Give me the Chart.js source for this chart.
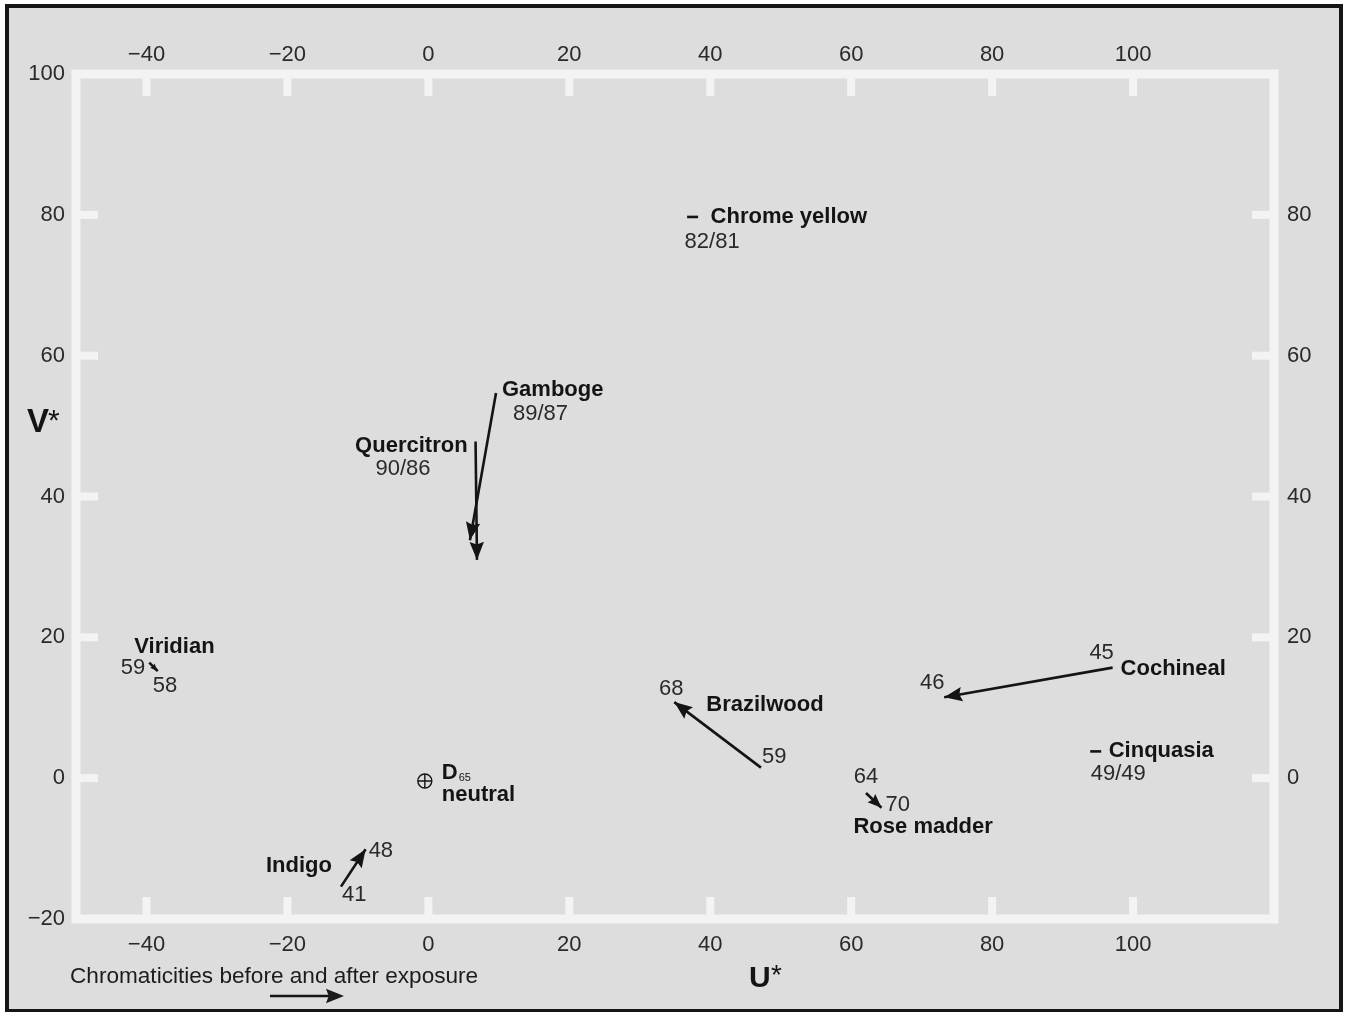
<!DOCTYPE html>
<html>
<head>
<meta charset="utf-8">
<title>Chromaticities before and after exposure</title>
<script src="https://cdn.jsdelivr.net/npm/chart.js@4/dist/chart.umd.min.js"></script>
<style>
  html, body { margin: 0; padding: 0; background: #fff; }
  canvas { display: block; }
</style>
</head>
<body>
<canvas id="grafica" width="1346" height="1012"></canvas>
<script>
// pigmentos y cromaticidades antes / despues de la exposicion
const pigmentos = ['Gamboge', 'Quercitron', 'Brazilwood', 'Cochineal', 'Rose madder', 'Indigo', 'Viridian', 'Chrome yellow', 'Cinquasia'];
const uAntes   = [9.6, 6.7, 47.2, 97.1, 62.1, -12.4, -39.6, 37.5, 94.7];
const vAntes   = [54.7, 47.8, 1.5, 15.7, -2.1, -15.4, 16.4, 79.7, 3.8];
const uDespues = [5.9, 6.9, 34.9, 73.2, 64.3, -8.9, -38.4, 37.5, 94.7];
const vDespues = [33.8, 31.0, 10.8, 11.5, -4.2, -10.1, 15.2, 79.7, 3.8];
const lAntes   = [89, 90, 59, 45, 64, 41, 59, 82, 49];
const lDespues = [87, 86, 68, 46, 70, 48, 58, 81, 49];

// punto neutro D65
const neutroU = [-0.5];
const neutroV = [-0.4];

const ticksU = [-40, -20, 0, 20, 40, 60, 80, 100];
const ticksV = [-20, 0, 20, 40, 60, 80, 100];
const ticksVDerecha = [0, 20, 40, 60, 80];

const FUENTE = '"Liberation Sans", Arial, Helvetica, sans-serif';
const TINTA = '#141414';
const GRIS_TEXTO = '#2a2a2a';
const BLANCO = '#f3f3f3';

Chart.defaults.font.family = FUENTE;

// donde va cada rotulo: [extremo, dx, dy, alineacion] en pixeles respecto al punto
const rotulos = {
  'Gamboge':       { nombre: ['b', 6, -3, 'left'],  par: ['b', 17, 21, 'left'] },
  'Quercitron':    { nombre: ['b', -8, 4, 'right'], par: ['b', -45, 27, 'right'] },
  'Brazilwood':    { nombre: ['a', 32, 3, 'left'],  antes: ['b', 1, -11, 'left'], despues: ['a', -3, -13, 'center'] },
  'Cochineal':     { nombre: ['b', 8, 1, 'left'],   antes: ['b', -11, -15, 'center'], despues: ['a', -12, -14, 'center'] },
  'Rose madder':   { nombre: ['a', -28, 19, 'left'], antes: ['b', 0, -16, 'center'], despues: ['a', 4, -3, 'left'] },
  'Indigo':        { nombre: ['b', -9, -21, 'right'], antes: ['b', 1, 8, 'left'], despues: ['a', 3, 2, 'left'] },
  'Viridian':      { nombre: ['b', -15, -16, 'left'], antes: ['b', -4, 5, 'right'], despues: ['a', -5, 15, 'left'] },
  'Chrome yellow': { nombre: ['b', 18, 0, 'left'],  par: ['b', -8, 25, 'left'] },
  'Cinquasia':     { nombre: ['b', 13, 0, 'left'],  par: ['b', -5, 23, 'left'] }
};

function conSigno(v) {
  return v < 0 ? '\u2212' + Math.abs(v) : String(v);
}

const datasets = [];
pigmentos.forEach((nombre, i) => {
  const seMueve = uAntes[i] !== uDespues[i] || vAntes[i] !== vDespues[i];
  if (seMueve) {
    datasets.push({
      label: nombre,
      showLine: true,
      flecha: true,
      data: [{ x: uAntes[i], y: vAntes[i] }, { x: uDespues[i], y: vDespues[i] }],
      borderColor: TINTA,
      borderWidth: 2.6,
      borderCapStyle: 'butt',
      pointRadius: 0
    });
  } else {
    datasets.push({
      label: nombre,
      data: [{ x: uAntes[i], y: vAntes[i] }],
      pointStyle: 'line',
      pointRadius: 5.5,
      borderColor: TINTA,
      borderWidth: 2.6
    });
  }
});
datasets.push({
  label: 'D65',
  data: [{ x: neutroU[0], y: neutroV[0] }],
  pointStyle: 'circle',
  pointRadius: 7,
  borderWidth: 1.4,
  borderColor: TINTA,
  backgroundColor: 'rgba(0,0,0,0)'
});
datasets.push({
  label: 'D65 cruz',
  data: [{ x: neutroU[0], y: neutroV[0] }],
  pointStyle: 'cross',
  pointRadius: 7,
  borderWidth: 1.4,
  borderColor: TINTA
});

const fondo = {
  id: 'fondo',
  beforeDraw(chart) {
    const ctx = chart.ctx;
    ctx.save();
    ctx.fillStyle = '#ffffff';
    ctx.fillRect(0, 0, chart.width, chart.height);
    ctx.fillStyle = '#161616';
    ctx.fillRect(5, 4, 1338, 1008);
    ctx.fillStyle = '#dddddd';
    ctx.fillRect(9, 8, 1330, 1001);
    ctx.restore();
  }
};

// marco blanco con marcas hacia dentro
const marco = {
  id: 'marco',
  beforeDatasetsDraw(chart) {
    const { ctx, chartArea: a, scales } = chart;
    const largo = 22, ancho = 8;
    ctx.save();
    ctx.strokeStyle = BLANCO;
    ctx.lineWidth = 9;
    ctx.strokeRect(a.left, a.top, a.right - a.left, a.bottom - a.top);
    ctx.fillStyle = BLANCO;
    scales.x.ticks.forEach(t => {
      const px = scales.x.getPixelForValue(t.value);
      ctx.fillRect(px - ancho / 2, a.bottom - largo, ancho, largo);
    });
    scales.xArriba.ticks.forEach(t => {
      const px = scales.xArriba.getPixelForValue(t.value);
      ctx.fillRect(px - ancho / 2, a.top, ancho, largo);
    });
    scales.y.ticks.forEach(t => {
      const py = scales.y.getPixelForValue(t.value);
      ctx.fillRect(a.left, py - ancho / 2, largo, ancho);
    });
    scales.yDerecha.ticks.forEach(t => {
      const py = scales.yDerecha.getPixelForValue(t.value);
      ctx.fillRect(a.right - largo, py - ancho / 2, largo, ancho);
    });
    ctx.restore();
  }
};

function escribir(ctx, str, x, y, negrita, alinear, tam, color) {
  ctx.font = (negrita ? 'bold ' : '') + (tam || 22) + 'px ' + FUENTE;
  ctx.textAlign = alinear || 'left';
  ctx.textBaseline = 'middle';
  ctx.fillStyle = color || TINTA;
  ctx.fillText(str, x, y);
}

function punta(ctx, x0, y0, x1, y1) {
  const d = Math.hypot(x1 - x0, y1 - y0);
  const L = Math.min(18, d * 0.65);
  const m = L * 0.4;
  const c = (x1 - x0) / d, s = (y1 - y0) / d;
  ctx.beginPath();
  ctx.moveTo(x1, y1);
  ctx.lineTo(x1 - L * c - m * s, y1 - L * s + m * c);
  ctx.lineTo(x1 - 0.85 * L * c, y1 - 0.85 * L * s);
  ctx.lineTo(x1 - L * c + m * s, y1 - L * s - m * c);
  ctx.closePath();
  ctx.fill();
}

const anotaciones = {
  id: 'anotaciones',
  afterDatasetsDraw(chart) {
    const ctx = chart.ctx;
    ctx.save();
    ctx.fillStyle = TINTA;
    chart.data.datasets.forEach((ds, k) => {
      if (!ds.flecha) return;
      const p = chart.getDatasetMeta(k).data;
      punta(ctx, p[0].x, p[0].y, p[1].x, p[1].y);
    });

    pigmentos.forEach((nombre, i) => {
      const p = chart.getDatasetMeta(i).data;
      const extremo = e => (e === 'a' && p[1]) ? p[1] : p[0];
      const r = rotulos[nombre];
      let q = extremo(r.nombre[0]);
      escribir(ctx, nombre, q.x + r.nombre[1], q.y + r.nombre[2], true, r.nombre[3]);
      if (r.par) {
        q = extremo(r.par[0]);
        escribir(ctx, lAntes[i] + '/' + lDespues[i], q.x + r.par[1], q.y + r.par[2], false, r.par[3], 22, GRIS_TEXTO);
      }
      if (r.antes) {
        q = extremo(r.antes[0]);
        escribir(ctx, String(lAntes[i]), q.x + r.antes[1], q.y + r.antes[2], false, r.antes[3], 22, GRIS_TEXTO);
      }
      if (r.despues) {
        q = extremo(r.despues[0]);
        escribir(ctx, String(lDespues[i]), q.x + r.despues[1], q.y + r.despues[2], false, r.despues[3], 22, GRIS_TEXTO);
      }
    });

    // D65 neutral
    const n = chart.getDatasetMeta(pigmentos.length).data[0];
    escribir(ctx, 'D', n.x + 17, n.y - 8, true, 'left');
    const anchoD = ctx.measureText('D').width;
    ctx.font = '11px ' + FUENTE;
    ctx.textBaseline = 'alphabetic';
    ctx.fillText('65', n.x + 17 + anchoD + 1, n.y);
    escribir(ctx, 'neutral', n.x + 17, n.y + 14, true, 'left');

    // titulos de los ejes
    escribir(ctx, 'V', 27, 423, true, 'left', 33);
    escribir(ctx, '*', 48, 422, false, 'left', 30);
    escribir(ctx, 'U', 749, 979, true, 'left', 30);
    escribir(ctx, '*', 771, 976, false, 'left', 28);

    // nota al pie
    escribir(ctx, 'Chromaticities before and after exposure', 70, 977, false, 'left', 22.6, '#1c1c1c');
    ctx.strokeStyle = TINTA;
    ctx.lineWidth = 2.6;
    ctx.beginPath();
    ctx.moveTo(270, 996);
    ctx.lineTo(330, 996);
    ctx.stroke();
    punta(ctx, 270, 996, 344, 996);
    ctx.restore();
  }
};

const estiloTicks = { font: { size: 22 }, color: GRIS_TEXTO, callback: v => conSigno(v) };

new Chart(document.getElementById('grafica').getContext('2d'), {
  type: 'scatter',
  data: { datasets: datasets },
  options: {
    responsive: false,
    animation: false,
    devicePixelRatio: 1,
    layout: { padding: 0 },
    plugins: { legend: { display: false }, tooltip: { enabled: false } },
    scales: {
      x: {
        type: 'linear', position: 'bottom', min: -50, max: 120,
        afterBuildTicks: s => { s.ticks = ticksU.map(v => ({ value: v })); },
        afterFit: s => { s.height = 93; },
        grid: { display: false, drawTicks: false }, border: { display: false },
        ticks: Object.assign({ padding: 13, maxRotation: 0 }, estiloTicks)
      },
      xArriba: {
        type: 'linear', position: 'top', min: -50, max: 120,
        afterBuildTicks: s => { s.ticks = ticksU.map(v => ({ value: v })); },
        afterFit: s => { s.height = 74; },
        grid: { display: false, drawTicks: false }, border: { display: false },
        ticks: Object.assign({ padding: 6, maxRotation: 0 }, estiloTicks)
      },
      y: {
        type: 'linear', position: 'left', min: -20, max: 100,
        afterBuildTicks: s => { s.ticks = ticksV.map(v => ({ value: v })); },
        afterFit: s => { s.width = 76; },
        grid: { display: false, drawTicks: false }, border: { display: false },
        ticks: Object.assign({ padding: 11 }, estiloTicks)
      },
      yDerecha: {
        type: 'linear', position: 'right', min: -20, max: 100,
        afterBuildTicks: s => { s.ticks = ticksVDerecha.map(v => ({ value: v })); },
        afterFit: s => { s.width = 72; },
        grid: { display: false, drawTicks: false }, border: { display: false },
        ticks: Object.assign({ padding: 13 }, estiloTicks)
      }
    }
  },
  plugins: [fondo, marco, anotaciones]
});
</script>
</body>
</html>
